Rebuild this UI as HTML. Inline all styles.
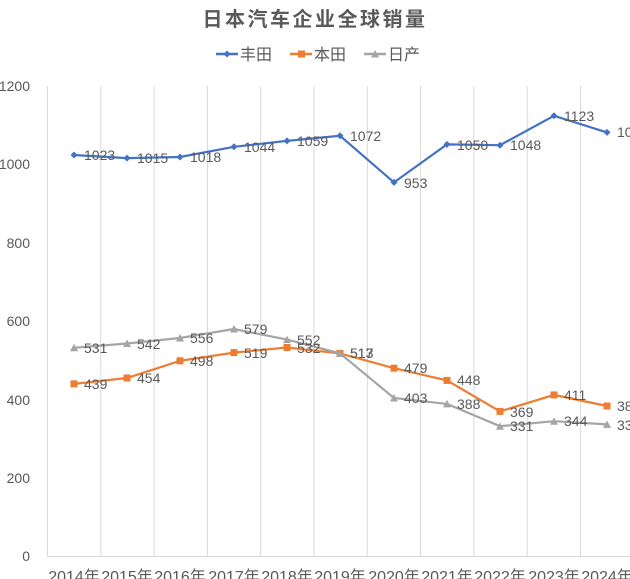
<!DOCTYPE html>
<html><head><meta charset="utf-8"><style>
body{margin:0;background:#fff;}
svg{display:block;font-family:"Liberation Sans","Noto Sans CJK SC",sans-serif;}
</style></head><body>
<svg width="630" height="579" viewBox="0 0 630 579">
<text x="315" y="26" text-anchor="middle" font-size="20" fill="#595959" font-weight="bold" letter-spacing="2.5">日本汽车企业全球销量</text>
<g font-size="16" fill="#595959">
<line x1="216" y1="54" x2="238" y2="54" stroke="#4472C4" stroke-width="2.5"/><path d="M227 50.5L230.5 54L227 57.5L223.5 54Z" fill="#4472C4"/>
<text x="240" y="60">丰田</text>
<line x1="290" y1="54" x2="312" y2="54" stroke="#ED7D31" stroke-width="2.5"/><rect x="298" y="50.5" width="7" height="7" fill="#ED7D31"/>
<text x="314" y="60">本田</text>
<line x1="364" y1="54" x2="386" y2="54" stroke="#A5A5A5" stroke-width="2.5"/><path d="M375 50L379 57.5L371 57.5Z" fill="#A5A5A5"/>
<text x="388" y="60">日产</text>
</g>
<g stroke="#d9d9d9" stroke-width="1">
<line x1="47.5" y1="86" x2="47.5" y2="556"/><line x1="100.8" y1="86" x2="100.8" y2="556"/><line x1="154.1" y1="86" x2="154.1" y2="556"/><line x1="207.4" y1="86" x2="207.4" y2="556"/><line x1="260.7" y1="86" x2="260.7" y2="556"/><line x1="314" y1="86" x2="314" y2="556"/><line x1="367.3" y1="86" x2="367.3" y2="556"/><line x1="420.6" y1="86" x2="420.6" y2="556"/><line x1="473.9" y1="86" x2="473.9" y2="556"/><line x1="527.2" y1="86" x2="527.2" y2="556"/><line x1="580.5" y1="86" x2="580.5" y2="556"/>
<line x1="47" y1="556.5" x2="630" y2="556.5"/>
</g>
<g font-size="14" fill="#595959" text-anchor="end">
<text x="30" y="91">1200</text><text x="30" y="169">1000</text><text x="30" y="248">800</text><text x="30" y="326">600</text><text x="30" y="405">400</text><text x="30" y="483">200</text><text x="30" y="561">0</text>
</g>
<g font-size="16" fill="#595959" text-anchor="middle">
<text x="74" y="582">2014年</text><text x="127" y="582">2015年</text><text x="180" y="582">2016年</text><text x="234" y="582">2017年</text><text x="287" y="582">2018年</text><text x="340" y="582">2019年</text><text x="394" y="582">2020年</text><text x="447" y="582">2021年</text><text x="500" y="582">2022年</text><text x="554" y="582">2023年</text><text x="607" y="582">2024年</text>
</g>
<polyline fill="none" stroke="#4472C4" stroke-width="2.2" points="74,155 127,158.1 180,157 234,146.8 287,140.9 340,135.8 394,182.4 447,144.4 500,145.2 554,115.8 607,132.4"/>
<g fill="#4472C4">
<path d="M74 151.5l3.5 3.5l-3.5 3.5l-3.5-3.5z"/><path d="M127 154.6l3.5 3.5l-3.5 3.5l-3.5-3.5z"/><path d="M180 153.5l3.5 3.5l-3.5 3.5l-3.5-3.5z"/><path d="M234 143.3l3.5 3.5l-3.5 3.5l-3.5-3.5z"/><path d="M287 137.4l3.5 3.5l-3.5 3.5l-3.5-3.5z"/><path d="M340 132.3l3.5 3.5l-3.5 3.5l-3.5-3.5z"/><path d="M394 178.9l3.5 3.5l-3.5 3.5l-3.5-3.5z"/><path d="M447 140.9l3.5 3.5l-3.5 3.5l-3.5-3.5z"/><path d="M500 141.7l3.5 3.5l-3.5 3.5l-3.5-3.5z"/><path d="M554 112.3l3.5 3.5l-3.5 3.5l-3.5-3.5z"/><path d="M607 128.9l3.5 3.5l-3.5 3.5l-3.5-3.5z"/>
</g>
<polyline fill="none" stroke="#ED7D31" stroke-width="2.2" points="74,383.9 127,378 180,360.8 234,352.6 287,347.5 340,353.4 394,368.2 447,380.4 500,411.4 554,394.9 607,406"/>
<g fill="#ED7D31">
<rect x="70.5" y="380.4" width="7" height="7"/><rect x="123.5" y="374.5" width="7" height="7"/><rect x="176.5" y="357.3" width="7" height="7"/><rect x="230.5" y="349.1" width="7" height="7"/><rect x="283.5" y="344" width="7" height="7"/><rect x="336.5" y="349.9" width="7" height="7"/><rect x="390.5" y="364.7" width="7" height="7"/><rect x="443.5" y="376.9" width="7" height="7"/><rect x="496.5" y="407.9" width="7" height="7"/><rect x="550.5" y="391.4" width="7" height="7"/><rect x="603.5" y="402.5" width="7" height="7"/>
</g>
<polyline fill="none" stroke="#A5A5A5" stroke-width="2.2" points="74,347.8 127,343.5 180,338 234,329 287,339.6 340,353.4 394,398 447,403.9 500,426.2 554,421.2 607,424.4"/>
<g fill="#A5A5A5">
<path d="M74 343.8l4 7.5h-8z"/><path d="M127 339.5l4 7.5h-8z"/><path d="M180 334l4 7.5h-8z"/><path d="M234 325l4 7.5h-8z"/><path d="M287 335.6l4 7.5h-8z"/><path d="M340 349.4l4 7.5h-8z"/><path d="M394 394l4 7.5h-8z"/><path d="M447 399.9l4 7.5h-8z"/><path d="M500 422.2l4 7.5h-8z"/><path d="M554 417.2l4 7.5h-8z"/><path d="M607 420.4l4 7.5h-8z"/>
</g>
<g font-size="14" fill="#595959">
<text x="84" y="160">1023</text><text x="137" y="163">1015</text><text x="190" y="162">1018</text><text x="244" y="152">1044</text><text x="297" y="146">1059</text><text x="350" y="141">1072</text><text x="404" y="188">953</text><text x="457" y="150">1050</text><text x="510" y="150">1048</text><text x="564" y="121">1123</text><text x="617" y="137">1081</text>
<text x="84" y="389">439</text><text x="137" y="383">454</text><text x="190" y="366">498</text><text x="244" y="358">519</text><text x="297" y="353">532</text><text x="350" y="358">517</text><text x="404" y="373">479</text><text x="457" y="385">448</text><text x="510" y="417">369</text><text x="564" y="400">411</text><text x="617" y="411">381</text>
<text x="84" y="353">531</text><text x="137" y="349">542</text><text x="190" y="343">556</text><text x="244" y="334">579</text><text x="297" y="345">552</text><text x="350" y="358">513</text><text x="404" y="403">403</text><text x="457" y="409">388</text><text x="510" y="431">331</text><text x="564" y="426">344</text><text x="617" y="430">336</text>
</g>
</svg>
</body></html>
